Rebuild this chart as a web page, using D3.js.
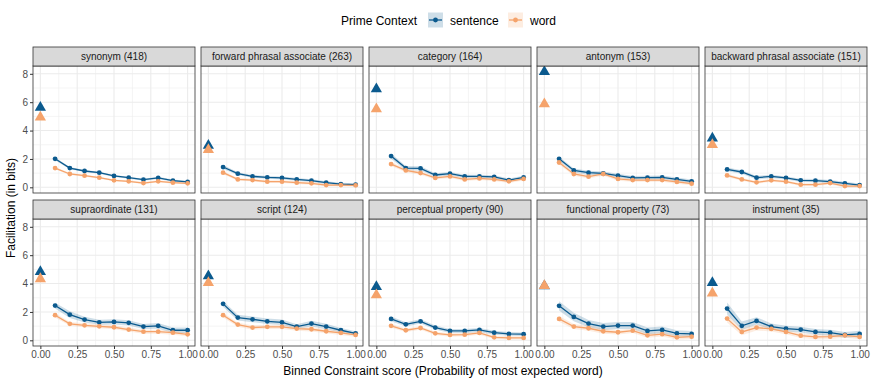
<!DOCTYPE html>
<html>
<head>
<meta charset="utf-8">
<script src="https://cdn.jsdelivr.net/npm/d3@7"></script>
<style>
  body { margin: 0; background: #fff; }
  svg { font-family: "Liberation Sans", Arial, sans-serif; }
</style>
</head>
<body>
<svg id="chart" width="872" height="384"></svg>
<script>
// relation types (panels), in facet order
var panels = ["synonym (418)", "forward phrasal associate (263)", "category (164)", "antonym (153)",
  "backward phrasal associate (151)", "supraordinate (131)", "script (124)", "perceptual property (90)",
  "functional property (73)", "instrument (35)"];

// constraint bins (x) for the circle points
var bins = [0.1, 0.2, 0.3, 0.4, 0.5, 0.6, 0.7, 0.8, 0.9, 1.0];

// facilitation at constraint 0 (triangles)
var sentenceZero = [5.63, 2.95, 6.93, 8.14, 3.46, 4.83, 4.54, 3.77, 3.82, 4.05];
var wordZero     = [4.93, 2.64, 5.52, 5.87, 3.00, 4.33, 4.05, 3.20, 3.85, 3.32];

// facilitation per bin, sentence context
var sentence = [
  [2.01, 1.36, 1.15, 1.03, 0.80, 0.68, 0.54, 0.66, 0.47, 0.38],
  [1.43, 0.96, 0.77, 0.70, 0.66, 0.56, 0.47, 0.33, 0.23, 0.19],
  [2.20, 1.36, 1.33, 0.87, 0.96, 0.77, 0.77, 0.73, 0.51, 0.70],
  [2.01, 1.19, 1.03, 0.98, 0.82, 0.66, 0.68, 0.70, 0.56, 0.42],
  [1.26, 1.08, 0.68, 0.77, 0.66, 0.49, 0.47, 0.40, 0.28, 0.16],
  [2.45, 1.81, 1.46, 1.27, 1.30, 1.23, 0.97, 1.02, 0.71, 0.71],
  [2.57, 1.60, 1.48, 1.34, 1.27, 0.97, 1.18, 0.97, 0.71, 0.49],
  [1.51, 1.13, 1.34, 0.90, 0.66, 0.66, 0.73, 0.54, 0.45, 0.43],
  [2.43, 1.65, 1.18, 0.97, 1.04, 1.04, 0.66, 0.73, 0.49, 0.45],
  [2.24, 1.02, 1.37, 0.97, 0.83, 0.76, 0.59, 0.54, 0.38, 0.45]
];

// facilitation per bin, word context
var word = [
  [1.36, 0.94, 0.82, 0.68, 0.49, 0.42, 0.30, 0.42, 0.33, 0.28],
  [1.03, 0.56, 0.51, 0.40, 0.40, 0.33, 0.28, 0.16, 0.16, 0.14],
  [1.64, 1.19, 1.01, 0.66, 0.77, 0.56, 0.63, 0.56, 0.42, 0.59],
  [1.75, 0.94, 0.75, 0.94, 0.59, 0.51, 0.51, 0.51, 0.38, 0.26],
  [0.84, 0.56, 0.35, 0.49, 0.40, 0.19, 0.19, 0.30, 0.09, 0.09],
  [1.77, 1.16, 1.06, 0.99, 0.92, 0.76, 0.61, 0.61, 0.54, 0.42],
  [1.77, 1.11, 0.90, 0.95, 0.95, 0.83, 0.78, 0.64, 0.52, 0.38],
  [1.02, 0.71, 0.87, 0.49, 0.38, 0.40, 0.52, 0.21, 0.17, 0.17],
  [1.51, 0.97, 0.85, 0.64, 0.57, 0.68, 0.35, 0.43, 0.21, 0.26],
  [1.53, 0.59, 0.90, 0.80, 0.59, 0.33, 0.24, 0.26, 0.35, 0.24]
];

// confidence band half-widths
var sentenceCI = [
  [0.10, 0.08, 0.07, 0.07, 0.07, 0.07, 0.07, 0.08, 0.08, 0.08],
  [0.14, 0.10, 0.10, 0.10, 0.10, 0.10, 0.10, 0.10, 0.10, 0.10],
  [0.18, 0.15, 0.15, 0.12, 0.12, 0.12, 0.12, 0.12, 0.12, 0.12],
  [0.15, 0.14, 0.14, 0.14, 0.13, 0.13, 0.13, 0.13, 0.13, 0.13],
  [0.13, 0.12, 0.12, 0.12, 0.11, 0.11, 0.11, 0.11, 0.11, 0.11],
  [0.20, 0.24, 0.20, 0.18, 0.18, 0.18, 0.18, 0.20, 0.20, 0.20],
  [0.20, 0.20, 0.20, 0.19, 0.19, 0.16, 0.20, 0.19, 0.16, 0.15],
  [0.17, 0.15, 0.15, 0.14, 0.14, 0.14, 0.14, 0.14, 0.13, 0.13],
  [0.32, 0.30, 0.26, 0.25, 0.25, 0.25, 0.24, 0.24, 0.22, 0.20],
  [0.42, 0.30, 0.26, 0.22, 0.20, 0.20, 0.20, 0.20, 0.20, 0.22]
];
var wordCI = [
  [0.08, 0.07, 0.07, 0.07, 0.07, 0.07, 0.07, 0.07, 0.07, 0.07],
  [0.10, 0.09, 0.09, 0.09, 0.09, 0.09, 0.09, 0.09, 0.09, 0.09],
  [0.14, 0.12, 0.12, 0.11, 0.11, 0.11, 0.11, 0.11, 0.11, 0.11],
  [0.14, 0.13, 0.13, 0.13, 0.12, 0.12, 0.12, 0.12, 0.12, 0.12],
  [0.11, 0.10, 0.10, 0.10, 0.10, 0.10, 0.10, 0.10, 0.10, 0.10],
  [0.16, 0.14, 0.14, 0.14, 0.14, 0.14, 0.14, 0.14, 0.14, 0.14],
  [0.16, 0.15, 0.15, 0.15, 0.15, 0.15, 0.15, 0.15, 0.14, 0.14],
  [0.13, 0.12, 0.12, 0.12, 0.12, 0.12, 0.12, 0.12, 0.12, 0.12],
  [0.20, 0.18, 0.17, 0.17, 0.16, 0.16, 0.16, 0.16, 0.16, 0.16],
  [0.28, 0.24, 0.20, 0.18, 0.17, 0.17, 0.17, 0.17, 0.17, 0.17]
];

var xTicks = [0, 0.25, 0.5, 0.75, 1];
var yTicks = [0, 2, 4, 6, 8];

var colSentence = "#0b5a8e";
var colWord = "#f5a36b";

// facet layout
var panelLeft = 33, panelW = 162, panelStep = 168;
var stripTop = 47, stripH = 19, panelH = 127, rowStep = 153;

var x = d3.scaleLinear().domain([-0.05, 1.05]).range([0, panelW]);
var y = d3.scaleLinear().domain([-0.4, 8.55]).range([panelH, 0]);

var svg = d3.select("#chart");

var series = [
  {name: "sentence", color: colSentence, zero: sentenceZero, vals: sentence, ci: sentenceCI},
  {name: "word", color: colWord, zero: wordZero, vals: word, ci: wordCI}
];

var tri = d3.symbol().type(d3.symbolTriangle).size(55);

panels.forEach(function(label, p) {
  var col = p % 5, row = Math.floor(p / 5);
  var px = panelLeft + col * panelStep;
  var sy = stripTop + row * rowStep;
  var g = svg.append("g").attr("transform", "translate(" + px + "," + (sy + stripH) + ")");

  // strip
  svg.append("rect").attr("x", px).attr("y", sy).attr("width", panelW).attr("height", stripH)
    .attr("fill", "#d9d9d9").attr("stroke", "#333").attr("stroke-width", 0.8);
  svg.append("text").attr("x", px + panelW / 2).attr("y", sy + stripH / 2 + 3.5)
    .attr("text-anchor", "middle").style("font-size", "10px").attr("fill", "#1a1a1a").text(label);

  // grid
  d3.range(-0.125, 1.1, 0.125).forEach(function(v) {
    var major = Math.abs(v * 4 - Math.round(v * 4)) < 1e-6;
    if (v < -0.05) return;
    g.append("line").attr("x1", x(v)).attr("x2", x(v)).attr("y1", 0).attr("y2", panelH)
      .attr("stroke", "#ebebeb").attr("stroke-width", major ? 1.1 : 0.55);
  });
  d3.range(0, 9, 1).forEach(function(v) {
    g.append("line").attr("x1", 0).attr("x2", panelW).attr("y1", y(v)).attr("y2", y(v))
      .attr("stroke", "#ebebeb").attr("stroke-width", v % 2 == 0 ? 1.1 : 0.55);
  });

  var area = d3.area()
    .x(function(d) { return x(d.x); })
    .y0(function(d) { return y(d.v - d.c); })
    .y1(function(d) { return y(d.v + d.c); });
  var line = d3.line().x(function(d) { return x(d.x); }).y(function(d) { return y(d.v); });

  var pts = series.map(function(s) {
    return bins.map(function(b, i) { return {x: b, v: s.vals[p][i], c: s.ci[p][i]}; });
  });

  // ribbons
  series.forEach(function(s, k) {
    g.append("path").datum(pts[k]).attr("d", area).attr("fill", s.color).attr("opacity", 0.2);
  });
  // lines
  series.forEach(function(s, k) {
    g.append("path").datum(pts[k]).attr("d", line).attr("fill", "none")
      .attr("stroke", s.color).attr("stroke-width", 1.3);
  });
  // points
  series.forEach(function(s, k) {
    g.selectAll(null).data(pts[k]).enter().append("circle")
      .attr("cx", function(d) { return x(d.x); }).attr("cy", function(d) { return y(d.v); })
      .attr("r", 2.4).attr("fill", s.color);
    g.append("path").attr("d", tri)
      .attr("transform", "translate(" + x(0) + "," + y(s.zero[p]) + ")").attr("fill", s.color);
  });

  // border
  g.append("rect").attr("width", panelW).attr("height", panelH)
    .attr("fill", "none").attr("stroke", "#333").attr("stroke-width", 0.8);

  // axes
  if (col == 0) {
    var ya = g.append("g").call(d3.axisLeft(y).tickValues(yTicks).tickSize(3).tickPadding(2));
    ya.select(".domain").remove();
    ya.selectAll("line").attr("stroke", "#333");
    ya.selectAll("text").style("font-size", "10px").attr("fill", "#4d4d4d").attr("font-family", null);
  }
  if (row == 1) {
    var xa = g.append("g").attr("transform", "translate(0," + panelH + ")")
      .call(d3.axisBottom(x).tickValues(xTicks).tickFormat(d3.format(".2f")).tickSize(3).tickPadding(2));
    xa.select(".domain").remove();
    xa.selectAll("line").attr("stroke", "#333");
    xa.selectAll("text").style("font-size", "10px").attr("fill", "#4d4d4d").attr("font-family", null);
  }
});

// axis titles
svg.append("text").attr("x", 443).attr("y", 375).attr("text-anchor", "middle")
  .style("font-size", "12px").attr("fill", "#000")
  .text("Binned Constraint score (Probability of most expected word)");
svg.append("text").attr("transform", "translate(15,208) rotate(-90)").attr("text-anchor", "middle")
  .style("font-size", "12px").attr("fill", "#000").text("Facilitation (in bits)");

// legend
var lg = svg.append("g").attr("transform", "translate(0,20)");
lg.append("text").attr("x", 341).attr("y", 4.5).style("font-size", "12px").text("Prime Context");
var keyX = [428, 508], labX = [450, 530];
series.forEach(function(s, k) {
  lg.append("rect").attr("x", keyX[k]).attr("y", -7.5).attr("width", 15).attr("height", 15)
    .attr("fill", s.color).attr("opacity", 0.2);
  lg.append("line").attr("x1", keyX[k] + 1).attr("x2", keyX[k] + 14).attr("y1", 0).attr("y2", 0)
    .attr("stroke", s.color).attr("stroke-width", 1.3);
  lg.append("circle").attr("cx", keyX[k] + 7.5).attr("cy", 0).attr("r", 2.4).attr("fill", s.color);
  lg.append("text").attr("x", labX[k]).attr("y", 4.5).style("font-size", "12px").text(s.name);
});
</script>
</body>
</html>
